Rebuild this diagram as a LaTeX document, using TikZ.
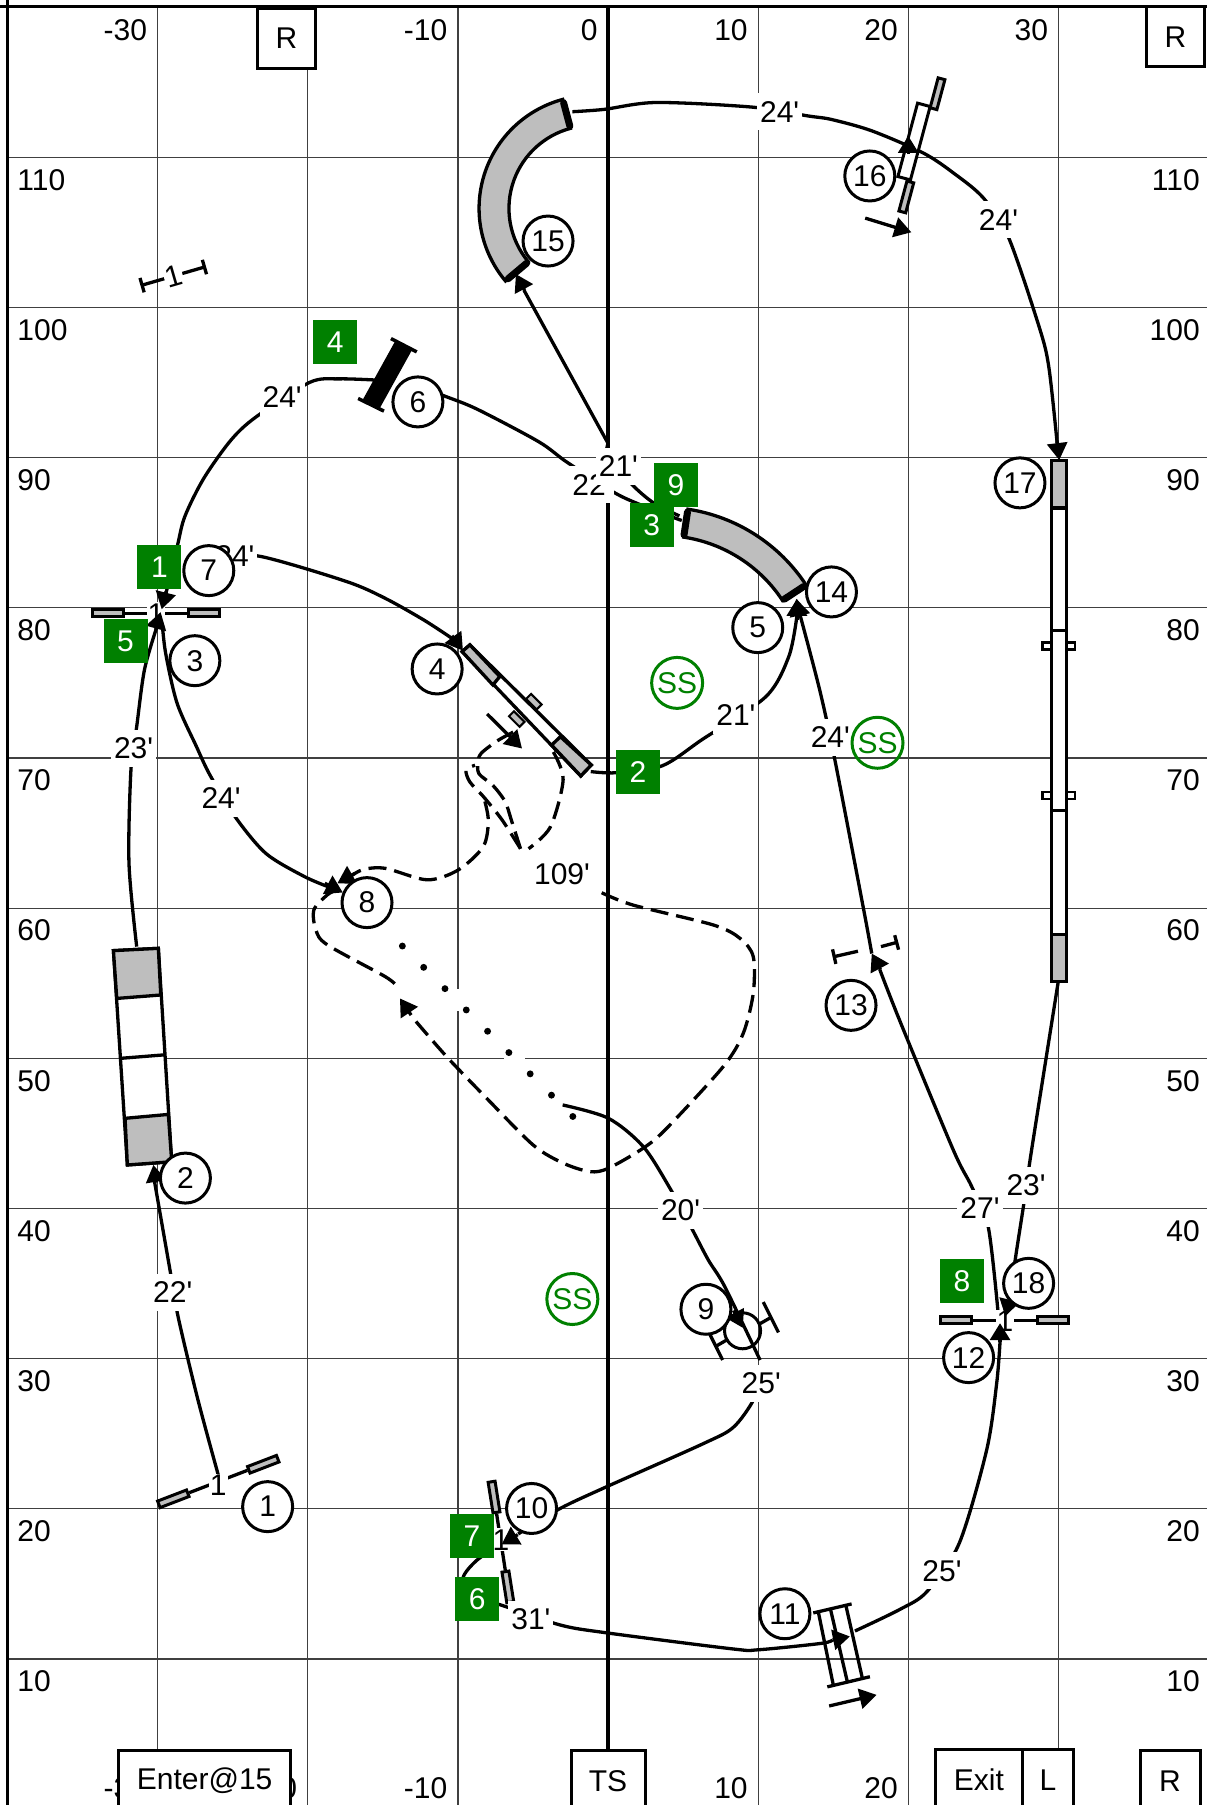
\documentclass[tikz,border=0pt]{standalone}
\usepackage{fontspec}
\setmainfont{Liberation Sans}
\usetikzlibrary{arrows.meta, positioning}
\definecolor{fieldgreen}{RGB}{0,128,0}
\definecolor{equipgray}{RGB}{190,190,190}
\newcommand{\ft}{\textquotesingle}
\tikzset{
  every node/.style={font=\fontsize{30}{32}\selectfont},
  gridline/.style={line width=1.3pt, black!75},
  frameline/.style={line width=3pt},
  coursepath/.style={line width=3.3pt},
  dashpath/.style={line width=3.3pt, dash pattern=on 18pt off 8pt},
  tipline/.style={line width=3.3pt, -{Triangle[length=17pt,width=20pt]}},
  equip/.style={line width=3.3pt},
  wing/.style={draw, line width=3pt, fill=equipgray, inner sep=0pt, minimum width=31pt, minimum height=7pt},
  axislabel/.style={inner sep=0pt},
  signbox/.style={draw, line width=3pt, fill=white, inner sep=0pt, minimum height=60pt},
  numcircle/.style={draw, circle, line width=3pt, fill=white, inner sep=0pt, minimum size=50pt},
  greensquare/.style={fill=fieldgreen, text=white, inner sep=0pt, minimum size=44pt},
  sscircle/.style={draw=fieldgreen, text=fieldgreen, circle, line width=3pt, inner sep=0pt, minimum size=51pt},
  distlabel/.style={fill=white, inner xsep=3pt, inner ysep=0pt, minimum height=37pt},
  jumplabel/.style={fill=white, inner sep=1pt}
}
\begin{document}
\begin{tikzpicture}[x=1.1516pt, y=-1.1516pt]
\useasboundingbox (0,0) rectangle (1047.4,1567.4);
% grid
\foreach \v in {-30,-20,-10,10,20,30} \draw[gridline] (528+13.04*\v,6) -- (528+13.04*\v,1568);
\foreach \v in {10,20,...,110} \draw[gridline] (6,1571-13.04*\v) -- (1052,1571-13.04*\v);
\draw[frameline] (6.5,0) -- (6.5,1568);
\draw[frameline] (0,5.7) -- (1052,5.7);
\draw[line width=4pt] (528,6) -- (528,1522);
% numbers along the edges
\foreach \v in {-30,-10,0,10,20,30} \node[axislabel,anchor=east] (top\v) at (519+13.04*\v,26) {\v};
\foreach \v in {-30,-20,-10,10,20} \node[axislabel,anchor=east] (bottom\v) at (519+13.04*\v,1553) {\v};
\foreach \v in {10,20,...,110} {
  \node[axislabel,anchor=west] (left\v) at (15,1590.5-13.04*\v) {\v};
  \node[axislabel,anchor=east] (right\v) at (1042,1590.5-13.04*\v) {\v};
}
% handler path
\draw[coursepath] plot[smooth] coordinates {(189.6,1281) (172,1216) (155,1145) (148,1105) (134,1025)};
\draw[coursepath] plot[smooth] coordinates {(118.7,822) (112,749.6) (113.7,668.6) (118.7,631) (125.4,581.8) (136,545)};
\draw[coursepath] plot[smooth] coordinates {(140.5,537) (143.8,567) (153.8,610.7) (170.6,648.3) (182.3,673) (204,709) (230.8,741) (264,761) (285,770)};
\draw[coursepath] plot[smooth] coordinates {(181,480) (227.4,483.4) (301,505) (334.4,519.5) (367.9,538.3) (392,554)};
\draw[coursepath] plot[smooth] coordinates {(143,520) (153.8,475) (160.5,448.5) (177,415.3) (200.7,382) (222.4,362) (269,332) (294.3,329) (326,330)};
\draw[coursepath] plot[smooth] coordinates {(362,335) (386.3,344) (414.7,355.5) (468,383.7) (493.3,402) (539.5,431) (592,452)};
\draw[coursepath] plot[smooth] coordinates {(590,448) (568,437) (550,422) (528,398) (528,385)};
\draw[coursepath] (528,385) -- (455,252);
\draw[coursepath] plot[smooth] coordinates {(513,670) (535,671) (575,665) (610,642) (665,605) (685,570) (692,535)};
\draw[coursepath] plot[smooth] coordinates {(757,828) (750,790) (725,660) (712,600) (695,535)};
\draw[coursepath] plot[smooth] coordinates {(497,97) (524.5,95) (569.7,89) (653,93) (701.8,100.7) (721.8,103.7) (757,113.6) (802,133) (829,151) (854,172) (875.7,206) (902.4,284) (910.8,319) (918,385)};
\draw[coursepath] plot[smooth] coordinates {(919,852) (895.8,998.6) (889.2,1044.3) (882,1091) (877,1127)};
\draw[coursepath] plot[smooth] coordinates {(867,1143) (858.2,1065.7) (843.8,1030.4) (827.8,998.6) (782,888) (764,842)};
\draw[coursepath] plot[smooth] coordinates {(868.4,1165) (865.5,1201) (856.8,1259) (833,1340) (805,1382) (781.5,1397.5) (742.4,1416.3)};
\draw[coursepath] plot[smooth] coordinates {(723,1424) (713.4,1427) (658.4,1432.6) (636.7,1431.9) (526.8,1417.9) (486.2,1411) (434,1393.4) (405,1385) (402.3,1369.4) (413.9,1355) (434,1341)};
\draw[coursepath] plot[smooth] coordinates {(488.6,959.5) (528.2,971) (558.6,995.7) (581.8,1031.9) (600.6,1066.6) (615,1094) (629.5,1117.5) (660,1181)};
\draw[coursepath] plot[smooth] coordinates {(660,1195) (654.1,1216) (636.7,1239.5) (610.7,1253.6) (526.8,1291) (486.2,1310) (450,1332)};
% dog path
\draw[dashpath] plot[smooth] coordinates {(522.5,775.2) (550,786) (619.4,803.2) (642.6,814.8) (654.1,830.7) (654.1,862.5) (645.4,897.3) (628,926.2) (578.9,979.8) (558.6,997) (528.2,1014.5) (512.3,1017.4) (489,1010) (463,994.3) (422.6,953.7) (387.9,917.6) (358.9,884.3)};
\draw[dashpath] plot[smooth] coordinates {(480.5,653) (489,677) (478,718) (459,737)};
\draw[dashpath] plot[smooth] coordinates {(452,737) (444,712) (438.6,696) (428,682) (416,672) (415,662) (418,654) (433,642.6) (451,633)};
\draw[dashpath] plot[smooth] coordinates {(452,737) (436,712) (420,692) (408,679) (404.7,668.7) (412.5,664.5)};
\draw[dashpath] plot[smooth] coordinates {(300,764) (314.4,755.4) (334.4,754) (371,764) (398,755.4) (419.7,735) (424,712) (420,692)};
\draw[dashpath] plot[smooth] coordinates {(292,773) (284.3,777) (272.6,790) (274.3,807.5) (284.3,820.5) (334.4,848) (345,856.8)};
\fill[white] (393.4,859) rectangle (401.4,878);
\fill[white] (437.6,915) rectangle (455.6,923);
\foreach \k in {0,...,8} \fill (349.4+18.5*\k,821.5+18.5*\k) circle (3);
% jumps
\node[wing,rotate=21] (jumpa) at (150.5,1301.5) {};
\node[wing,rotate=21] (jumpb) at (228.6,1271.5) {};
\draw[equip] (jumpa) -- (jumpb);
\node[wing] (jumpc) at (93.6,532.6) {};
\node[wing] (jumpd) at (177,532.6) {};
\draw[equip] (jumpc) -- (jumpd);
\node[wing] (jumpe) at (830.4,1146.5) {};
\node[wing] (jumpf) at (914.3,1146.5) {};
\draw[equip] (jumpe) -- (jumpf);
\node[wing,rotate=-81] (jumpg) at (429,1300) {};
\node[wing,rotate=-81] (jumph) at (441,1378) {};
\draw[equip] (jumpg) -- (jumph);
% panel jump
\node[wing,rotate=75] (paneltop) at (814.1,81.4) {};
\node[wing,rotate=75] (panelbottom) at (787,171) {};
\node[draw,line width=3pt,fill=white,rotate=75,inner sep=0pt,minimum width=76pt,minimum height=13pt] (panel) at (793.7,122.9) {};
% wall
\draw[line width=19pt] (350.5,300) -- (322,351.5);
\draw[line width=3.5pt] (339.5,294) -- (361.9,305.6);
\draw[line width=3.5pt] (311,346) -- (333.4,357);
% tire
\node[draw,circle,line width=3pt,inner sep=0pt,minimum size=36pt] (tire) at (644.8,1155.6) {};
\draw[equip] (662.8,1130.6) -- (676,1157);
\draw[equip] (616.5,1158.8) -- (627.5,1181);
\draw[equip] (658.4,1150.3) -- (669.5,1144);
\draw[equip] (621.7,1169) -- (632.4,1162.8);
% double jump
\draw[equip] (706.2,1400.6) -- (739.5,1392.8);
\draw[equip] (718.4,1464.8) -- (755.4,1456);
\draw[equip] (710.6,1399.7) -- (723.6,1463.2);
\draw[equip] (721.2,1397.5) -- (735.7,1460);
\draw[equip] (734.6,1394.4) -- (749,1458);
% tunnels
\draw[equip,fill=equipgray] (514,181) ++(255:98) arc[start angle=255,end angle=140,radius=98] -- (458.8,227.3) arc[start angle=140,end angle=255,radius=72] -- cycle;
\draw[line width=7pt,line cap=round] (514,181) ++(255:95) -- ++(255:-21);
\draw[line width=7pt,line cap=round] (514,181) ++(140:95) -- ++(140:-21);
\draw[equip,fill=equipgray] (575,590) ++(-81.4:149.5) arc[start angle=-81.4,end angle=-33.3,radius=149.5] -- (679.5,521.4) arc[start angle=-33.3,end angle=-81.4,radius=125] -- cycle;
\draw[line width=7pt,line cap=round] (575,590) ++(-81.4:147) -- ++(-81.4:-20);
\draw[line width=7pt,line cap=round] (575,590) ++(-33.3:147) -- ++(-33.3:-20);
% teeter
\draw[equip,fill=white] (401.3,565.8) -- (408,560) -- (513.4,664.3) -- (504.3,673.8) -- cycle;
\draw[equip,fill=equipgray] (401.3,565.8) -- (408,560) -- (434,587.5) -- (428,594.8) -- cycle;
\draw[equip,fill=equipgray] (479,647) -- (486.6,639.7) -- (513.4,664.3) -- (504.3,673.8) -- cycle;
\node[wing,rotate=-45,line width=2pt,minimum width=15pt,minimum height=7pt] (teetertaba) at (463.6,609.3) {};
\node[wing,rotate=-45,line width=2pt,minimum width=15pt,minimum height=7pt] (teetertabb) at (448.7,624.4) {};
% dog walk
\foreach \s in {561,690.6} \draw[line width=2.5pt,fill=white] (905.4,\s-3) rectangle (933.4,\s+3);
\draw[equip,fill=white] (913.2,400) rectangle (925.8,852);
\draw[equip,fill=equipgray] (913.2,400) rectangle (925.8,441);
\draw[equip,fill=equipgray] (913.2,811.6) rectangle (925.8,852);
\draw[equip] (913.2,547.3) -- (925.8,547.3);
\draw[equip] (913.2,704) -- (925.8,704);
% a-frame
\draw[equip,fill=white] (98.5,825.5) -- (137.5,823.5) -- (149.1,1008.8) -- (110.6,1011.6) -- cycle;
\draw[equip,fill=equipgray] (98.5,825.5) -- (137.5,823.5) -- (139.6,864) -- (101.4,867) -- cycle;
\draw[equip,fill=equipgray] (108.6,971.1) -- (146.2,967.7) -- (149.1,1008.8) -- (110.6,1011.6) -- cycle;
\draw[equip] (104.8,919) -- (142.5,916);
% one foot marks
\draw[coursepath,{Bar[width=15pt]}-{Bar[width=15pt]}] (122,248) -- node[jumplabel,sloped] (markone) {1} (178.9,231.5);
\draw[coursepath,{Bar[width=15pt]}-] (723,831) -- (745,826);
\draw[coursepath,-{Bar[width=15pt]}] (765,822) -- (780,818);
% distances
\foreach \t/\x/\y [count=\i] in {
  24\ft/245/345, 24\ft/204/483, 23\ft/116/650, 24\ft/192/693, 22\ft/514/421, 21\ft/537/405,
  21\ft/639/621, 24\ft/721/640, 24\ft/677/97, 24\ft/867/191, 22\ft/150/1122, 20\ft/591/1051,
  25\ft/661/1201, 31\ft/461/1406, 25\ft/818/1364, 27\ft/851/1049, 23\ft/891/1029, 109\ft/488/759}
  \node[distlabel] (dist\i) at (\x,\y) {\t};
\node[jumplabel] (onea) at (189.5,1290) {1};
\node[jumplabel] (oneb) at (135.5,533) {1};
\node[jumplabel] (onec) at (872.7,1147) {1};
\node[jumplabel] (oned) at (435,1337) {1};
% arrow tips
\foreach \fx/\fy/\tx/\ty in {
  135.7/1027/133.2/1011.6, 135.2/547/139.5/531.5, 144.3/513.5/140.4/529, 392.5/552/402/565,
  282/767/297.7/775, 308/758.5/293/767, 357/881.5/347.3/867, 423/620/453.3/650,
  917.8/383/919.8/399.5, 788.7/134/788.7/118, 751.3/189.4/791.4/201.7, 455.5/252/448/238,
  692/538/692/520, 695/536/691.5/520, 764.5/842/757/828, 868.4/1165/868.4/1149,
  877/1127/873/1143, 637/1138/645/1153, 449.6/1332.6/435.6/1341, 723/1424/738/1421,
  720/1481.4/761.2/1471.7}
  \draw[tipline] (\fx,\fy) -- (\tx,\ty);
% signs
\node[signbox,minimum width=58pt] (signrl) at (248.8,33.3) {R};
\node[signbox,minimum width=58pt] (signrr) at (1020.7,32) {R};
\node[signbox,minimum width=172.7pt] (signenter) at (177.7,1546.5) {Enter@15};
\node[signbox,minimum width=74pt] (signts) at (528,1546.5) {TS};
\node[signbox,minimum width=87.5pt] (signexit) at (850,1545.5) {Exit};
\node[signbox,minimum width=50.7pt,right=-3pt of signexit] (signl) {L};
\node[signbox,minimum width=60pt] (signrb) at (1016,1546.5) {R};
% numbered circles
\foreach \n/\x/\y in {
  1/232.4/1308.3, 2/161/1023, 3/169.2/573.7, 4/379.6/580.9, 5/658/545, 6/362.9/349,
  7/181.3/495.5, 8/318.7/783.8, 9/613/1136.9, 10/461.6/1309.9, 11/681.6/1401.3, 12/841.1/1178.9,
  13/739/873, 14/722/514, 15/475.9/209.3, 16/755.3/152.8, 17/885.7/419.3, 18/893.2/1114.4}
  \node[numcircle] (num\n) at (\x,\y) {\n};
% green squares
\foreach \n/\x/\y in {
  9/587/421, 3/566/456, 4/291/297, 1/138.5/492.7, 5/109/556.9, 2/554/670,
  7/409.8/1334, 6/414.5/1388.8, 8/835.4/1112.3}
  \node[greensquare] (team\n) at (\x,\y) {\n};
\node[sscircle] (ssa) at (588,593) {SS};
\node[sscircle] (ssb) at (762,645) {SS};
\node[sscircle] (ssc) at (497,1128) {SS};
\end{tikzpicture}
\end{document}
